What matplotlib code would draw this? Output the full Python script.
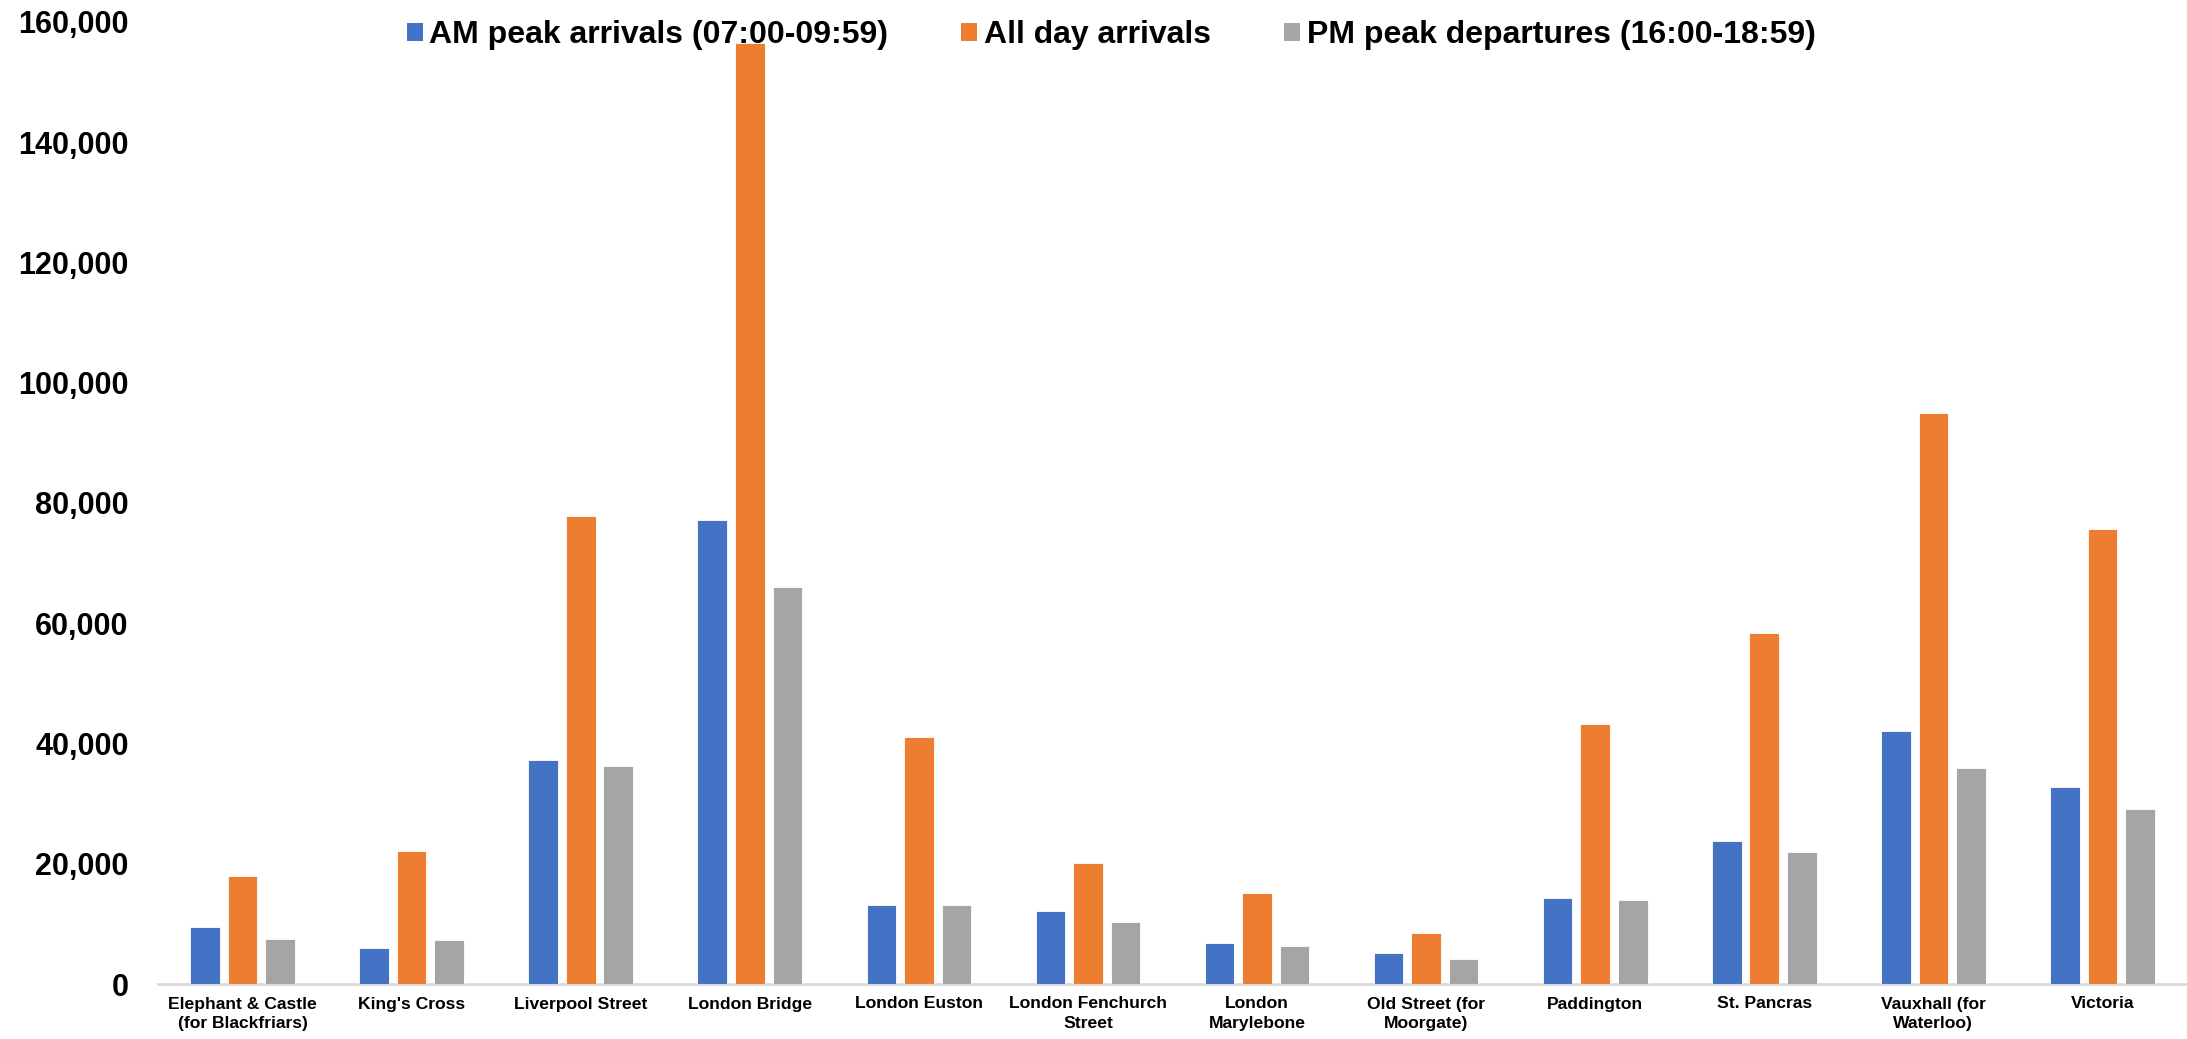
import matplotlib
matplotlib.use("Agg")
import matplotlib.pyplot as plt
import numpy as np
from matplotlib.patches import Patch
from matplotlib.ticker import FuncFormatter, MultipleLocator

stations = ["Elephant & Castle\n(for Blackfriars)", "King's Cross", "Liverpool Street",
            "London Bridge", "London Euston", "London Fenchurch\nStreet",
            "London\nMarylebone", "Old Street (for\nMoorgate)", "Paddington",
            "St. Pancras", "Vauxhall (for\nWaterloo)", "Victoria"]
am_peak = [9400, 6000, 37300, 77200, 13100, 12100, 6800, 5200, 14300, 23800, 42100, 32700]
all_day = [17900, 22100, 77800, 156500, 41000, 20200, 15200, 8500, 43300, 58300, 95000, 75700]
pm_peak = [7500, 7300, 36300, 66100, 13100, 10300, 6300, 4200, 14000, 21900, 36000, 29100]
series_names = ["AM peak arrivals (07:00-09:59)", "All day arrivals", "PM peak departures (16:00-18:59)"]
colors = ["#4472C4", "#ED7D31", "#A5A5A5"]

plt.rcParams['font.family'] = ['Liberation Sans', 'DejaVu Sans']
plt.rcParams['font.weight'] = 'bold'

W, H = 2187, 1039
fig = plt.figure(figsize=(W / 100, H / 100), dpi=100)
ax = fig.add_axes([158 / W, 55 / H, 2029 / W, 962 / H])

x = np.arange(len(stations))
offsets = [-0.222, 0.0, 0.222]
width = 0.175
for vals, off, c in zip([am_peak, all_day, pm_peak], offsets, colors):
    ax.bar(x + off, vals, width=width, color=c, edgecolor='white', linewidth=0.6, zorder=2)

ax.set_xlim(-0.5, len(stations) - 0.5)
ax.set_ylim(0, 160000)
ax.yaxis.set_major_locator(MultipleLocator(20000))
ax.yaxis.set_major_formatter(FuncFormatter(lambda v, p: f"{int(v):,}"))
ax.set_xticks(x)
ax.set_xticklabels(stations, fontsize=12.6, fontweight='bold', linespacing=1.35)
for lab in ax.get_yticklabels():
    lab.set_fontweight('bold')
ax.tick_params(axis='y', length=0, pad=21, labelsize=22)
ax.tick_params(axis='x', length=0, pad=9)

for s in ['top', 'right', 'left']:
    ax.spines[s].set_visible(False)
ax.spines['bottom'].set_color('#D9D9D9')
ax.spines['bottom'].set_linewidth(2.0)
ax.spines['bottom'].set_zorder(1)

handles = [Patch(facecolor=c, edgecolor='none') for c in colors]
leg = fig.legend(handles, series_names, loc='center', bbox_to_anchor=(1111 / W, 1 - 35 / H),
                 ncol=3, frameon=False, prop={'family': 'Liberation Sans', 'weight': 'bold', 'size': 23},
                 handlelength=0.5, handleheight=0.5, handletextpad=0.2, columnspacing=2.3,
                 borderpad=0, borderaxespad=0)
leg.set_zorder(10)

fig.savefig("out.png", dpi=100, facecolor='white')
